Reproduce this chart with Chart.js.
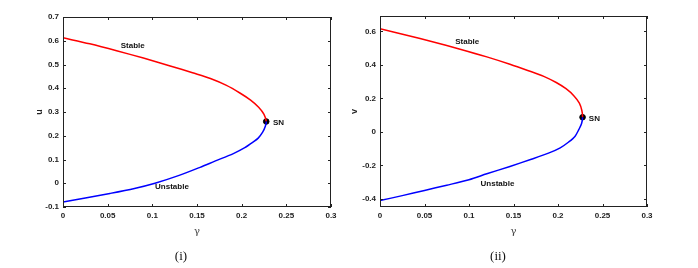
<!DOCTYPE html>
<html>
<head>
<meta charset="utf-8">
<script src="https://cdn.jsdelivr.net/npm/chart.js@4/dist/chart.umd.min.js"></script>
<style>
  body { margin: 0; background: #fff; }
  .box { position: absolute; top: 0; height: 268px; }
</style>
</head>
<body>
<div class="box" style="left:0;width:345px"><canvas id="left"></canvas></div>
<div class="box" style="left:345px;width:353px"><canvas id="right"></canvas></div>
<script>
// ---- panel (i): u against gamma ----
// stable branch from gamma=0 up to the SN point (last entry)
const gammaStableU = [0, 0.03, 0.06, 0.09, 0.12, 0.145, 0.165, 0.183, 0.198, 0.21, 0.219, 0.225, 0.2275];
const uStable = [0.6125, 0.587, 0.558, 0.527, 0.494, 0.465, 0.441, 0.412, 0.38, 0.35, 0.32, 0.29, 0.26];
// unstable branch from just past SN back to gamma=0
const gammaUnstableU = [0.2265, 0.2235, 0.2185, 0.213, 0.2035, 0.1907, 0.17, 0.1534, 0.13, 0.103, 0.08, 0.0525, 0.025, 0];
const uUnstable = [0.24, 0.215, 0.19, 0.174, 0.15, 0.125, 0.093, 0.067, 0.033, 0.0, -0.022, -0.043, -0.062, -0.079];
const snU = [0.2275, 0.26];
const yTicksU = [-0.1, 0, 0.1, 0.2, 0.3, 0.4, 0.5, 0.6, 0.7];

// ---- panel (ii): v against gamma ----
const gammaStableV = [0, 0.03, 0.06, 0.09, 0.12, 0.146, 0.166, 0.184, 0.198, 0.209, 0.218, 0.224, 0.2268, 0.2276];
const vStable = [0.616, 0.577, 0.537, 0.494, 0.448, 0.404, 0.367, 0.332, 0.295, 0.258, 0.215, 0.172, 0.128, 0.088];
const gammaUnstableV = [0.2265, 0.2235, 0.219, 0.212, 0.2025, 0.19, 0.17, 0.146, 0.12, 0.1, 0.075, 0.05, 0.025, 0];
const vUnstable = [0.05, 0.015, -0.027, -0.06, -0.095, -0.125, -0.163, -0.206, -0.25, -0.285, -0.318, -0.349, -0.38, -0.41];
const snV = [0.2276, 0.088];
const yTicksV = [-0.4, -0.2, 0, 0.2, 0.4, 0.6];

const xTicks = [0, 0.05, 0.1, 0.15, 0.2, 0.25, 0.3];

// text notes: [text, gamma, value]
const notesU = [["Stable", 0.078, 0.579], ["Unstable", 0.122, -0.013], ["SN", 0.235, 0.254]];
const notesV = [["Stable", 0.098, 0.536], ["Unstable", 0.132, -0.308], ["SN", 0.2346, 0.081]];

const tickFont = { family: "Liberation Sans, Arial", size: 8, weight: "bold" };

function pts(xs, ys) {
  return xs.map((x, i) => ({ x: x, y: ys[i] }));
}

// box round the plot area with inward tick marks on all sides
const boxPlugin = {
  id: "box",
  afterDraw(chart) {
    const ctx = chart.ctx;
    const a = chart.chartArea;
    const xs = chart.scales.x, ys = chart.scales.y;
    ctx.save();
    ctx.strokeStyle = "#222";
    ctx.lineWidth = 1;
    ctx.strokeRect(a.left + 0.5, a.top + 0.5, a.right - a.left - 1, a.bottom - a.top - 1);
    ctx.beginPath();
    xs.ticks.forEach(t => {
      const p = Math.round(xs.getPixelForValue(t.value)) + 0.5;
      ctx.moveTo(p, a.bottom); ctx.lineTo(p, a.bottom - 3);
      ctx.moveTo(p, a.top); ctx.lineTo(p, a.top + 3);
    });
    ys.ticks.forEach(t => {
      const p = Math.round(ys.getPixelForValue(t.value)) + 0.5;
      ctx.moveTo(a.left, p); ctx.lineTo(a.left + 3, p);
      ctx.moveTo(a.right, p); ctx.lineTo(a.right - 3, p);
    });
    ctx.stroke();
    ctx.restore();
  }
};

// labels Stable / Unstable / SN and the caption
const notesPlugin = {
  id: "notes",
  afterDatasetsDraw(chart, args, opts) {
    const ctx = chart.ctx;
    const xs = chart.scales.x, ys = chart.scales.y;
    ctx.save();
    ctx.fillStyle = "#111";
    ctx.font = "bold 8px 'Liberation Sans', Arial";
    ctx.textBaseline = "middle";
    opts.notes.forEach(n => {
      ctx.textAlign = n[0] == "SN" ? "left" : "center";
      ctx.fillText(n[0], xs.getPixelForValue(n[1]), ys.getPixelForValue(n[2]));
    });
    ctx.font = "13px 'Liberation Serif', 'Times New Roman'";
    ctx.textAlign = "center";
    ctx.fillText(opts.caption, opts.captionX, 257);
    ctx.restore();
  }
};

function makeChart(id, cfg) {
  // one continuous curve so the fold at SN stays smooth; colour switches there
  const curve = pts(cfg.gs, cfg.ys).concat(pts(cfg.gu, cfg.yu));
  const nStable = cfg.gs.length;
  return new Chart(document.getElementById(id), {
    type: "scatter",
    data: {
      datasets: [
        {
          data: curve, showLine: true, borderWidth: 1.5, pointRadius: 0, tension: 0.3,
          borderColor: "#ff0000",
          segment: { borderColor: c => c.p0DataIndex < nStable - 1 ? "#ff0000" : "#0000ff" }
        },
        { data: [{ x: cfg.sn[0], y: cfg.sn[1] }], pointRadius: 2.8, backgroundColor: "#000", borderColor: "#000" }
      ]
    },
    options: {
      responsive: true,
      maintainAspectRatio: false,
      animation: false,
      events: [],
      layout: { padding: cfg.pad },
      plugins: {
        legend: { display: false },
        tooltip: { enabled: false },
        notes: { notes: cfg.notes, caption: cfg.caption, captionX: cfg.captionX }
      },
      scales: {
        x: {
          type: "linear", min: 0, max: 0.3,
          grid: { display: false, drawTicks: false },
          border: { display: false },
          afterBuildTicks: s => { s.ticks = xTicks.map(v => ({ value: v })); },
          afterFit: s => { s.height = 61; },
          ticks: { font: tickFont, color: "#222", padding: 4, maxRotation: 0, callback: v => String(v) },
          title: { display: true, text: "γ", color: "#444", font: { family: "DejaVu Serif", size: 10 }, padding: { top: 0, bottom: 31 } }
        },
        y: {
          type: "linear", min: cfg.ymin, max: cfg.ymax,
          grid: { display: false, drawTicks: false },
          border: { display: false },
          afterBuildTicks: s => { s.ticks = cfg.yticks.map(v => ({ value: v })); },
          afterFit: s => { s.width = cfg.yw; },
          ticks: { font: tickFont, color: "#222", padding: 4, callback: v => String(v) },
          title: { display: true, text: cfg.ylabel, color: "#222", font: { family: "Liberation Sans", size: 9, weight: "bold" }, padding: { top: cfg.titlePad, bottom: 0 } }
        }
      }
    },
    plugins: [boxPlugin, notesPlugin]
  });
}

makeChart("left", {
  gs: gammaStableU, ys: uStable, gu: gammaUnstableU, yu: uUnstable, sn: snU,
  ymin: -0.1, ymax: 0.7, yticks: yTicksU, ylabel: "u", notes: notesU,
  caption: "(i)", captionX: 181, yw: 63, titlePad: 34,
  pad: { left: 0, top: 17, right: 14, bottom: 0 }
});

makeChart("right", {
  gs: gammaStableV, ys: vStable, gu: gammaUnstableV, yu: vUnstable, sn: snV,
  ymin: -0.448, ymax: 0.692, yticks: yTicksV, ylabel: "v", notes: notesV,
  caption: "(ii)", captionX: 153, yw: 35, titlePad: 4,
  pad: { left: 0, top: 16, right: 51, bottom: 0 }
});
</script>
</body>
</html>
